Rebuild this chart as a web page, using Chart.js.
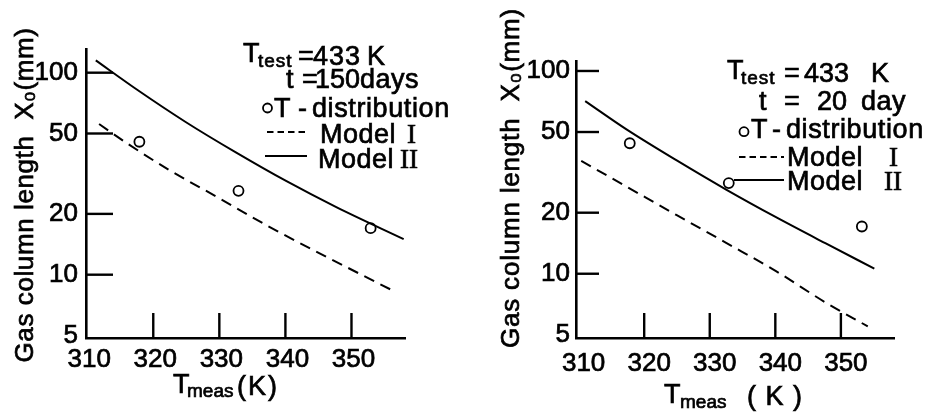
<!DOCTYPE html>
<html><head><meta charset="utf-8">
<script src="https://cdn.jsdelivr.net/npm/chart.js@4.4.1/dist/chart.umd.min.js"></script>
<style>
html,body{margin:0;padding:0;background:#fff;}
#wrap{position:relative;width:928px;height:412px;background:#fff;}
canvas{position:absolute;top:0;}
</style></head><body>
<div id="wrap">
<canvas id="c1" width="464" height="412" style="left:0"></canvas>
<canvas id="c2" width="464" height="412" style="left:464px"></canvas>
</div>
<script>
// ---- tick labels ----
const xTickValues = [310, 320, 330, 340, 350];
const yTickValues = [5, 10, 20, 50, 100];

// ---- left panel: Ttest = 433 K, t = 150 days ----
const leftModel1T = [311.8, 316.4, 322.4, 330.0, 337.5, 345.1, 356.7];
const leftModel1X = [55.7, 43.9, 33.0, 23.9, 17.3, 12.8, 8.2];
const leftModel2T = [311.3, 317.4, 324.9, 332.5, 340.1, 347.7, 357.9];
const leftModel2X = [115, 83, 57, 40.3, 29.1, 21.6, 15.0];
const leftTdistT = [317.9, 332.9, 352.9];
const leftTdistX = [45.5, 26.0, 17.0];

// ---- right panel: Ttest = 433 K, t = 20 day ----
const rightModel1T = [310.4, 317.3, 324.9, 332.5, 340.1, 347.7, 354.1];
const rightModel1X = [36.0, 26.9, 19.5, 14.2, 10.3, 7.2, 5.5];
const rightModel2T = [311.0, 317.3, 324.9, 332.5, 340.1, 347.7, 355.1];
const rightModel2X = [71, 51.5, 36.3, 26.0, 19.0, 14.1, 10.6];
const rightTdistT = [317.8, 332.9, 353.2];
const rightTdistX = [44.0, 28.0, 17.1];

const SANS = "'Liberation Sans', Arial, sans-serif";
const SERIF = "'Liberation Serif', 'Times New Roman', serif";

function pts(xs, ys) { return xs.map((x, i) => ({ x: x, y: ys[i] })); }

function drawText(ctx, s, x, y, font, spacing) {
  ctx.font = font;
  ctx.textAlign = 'left';
  ctx.textBaseline = 'alphabetic';
  try { ctx.letterSpacing = (spacing || 0) + 'px'; } catch (e) {}
  ctx.lineWidth = 0.7;
  ctx.fillText(s, x, y);
  ctx.strokeText(s, x, y);
  try { ctx.letterSpacing = '0px'; } catch (e) {}
}

function decorPlugin(p) {
  return {
    id: 'decor',
    afterDraw(chart) {
      const ctx = chart.ctx, xs = chart.scales.x, ys = chart.scales.y, ca = chart.chartArea;
      ctx.save();
      ctx.strokeStyle = '#000';
      ctx.fillStyle = '#000';
      ctx.lineWidth = 2.4;
      // inward tick marks
      yTickValues.slice(1).forEach(v => {
        const y = ys.getPixelForValue(v);
        ctx.beginPath(); ctx.moveTo(ca.left, y); ctx.lineTo(ca.left + p.yTickLen, y); ctx.stroke();
      });
      xTickValues.slice(1).forEach(v => {
        const x = xs.getPixelForValue(v);
        ctx.beginPath(); ctx.moveTo(x, ca.bottom); ctx.lineTo(x, ca.bottom - p.xTickLen); ctx.stroke();
      });
      // y title (rotated)
      ctx.save();
      ctx.translate(p.yTitle.x, p.yTitle.y);
      ctx.rotate(-Math.PI / 2);
      ctx.font = '26px ' + SANS;
      ctx.textAlign = 'center';
      ctx.textBaseline = 'alphabetic';
      try { ctx.letterSpacing = p.yTitle.sp + 'px'; } catch (e) {}
      ctx.lineWidth = 0.7;
      ctx.fillText('Gas column length  X\u2080(mm)', 0, 0);
      ctx.strokeText('Gas column length  X\u2080(mm)', 0, 0);
      ctx.restore();
      // text pieces (x title, legend)
      p.texts.forEach(t => drawText(ctx, t.s, t.x, t.y, t.f, t.sp));
      // legend samples
      ctx.lineWidth = 2;
      ctx.setLineDash([6.5, 4]);
      ctx.beginPath(); ctx.moveTo(p.dash[0], p.dash[2]); ctx.lineTo(p.dash[1], p.dash[2]); ctx.stroke();
      ctx.setLineDash([]);
      ctx.beginPath(); ctx.moveTo(p.solid[0], p.solid[2]); ctx.lineTo(p.solid[1], p.solid[2]); ctx.stroke();
      ctx.lineWidth = 1.8;
      ctx.beginPath(); ctx.arc(p.circ[0], p.circ[1], 4.5, 0, Math.PI * 2); ctx.stroke();
      ctx.restore();
    }
  };
}

function makeChart(id, d, p) {
  const tickFont = { family: SANS, size: 26 };
  return new Chart(document.getElementById(id), {
    type: 'line',
    data: {
      datasets: [
        { label: 'Model I', data: pts(d.m1T, d.m1X), borderColor: '#000', borderWidth: 2,
          borderDash: [11, 7], pointRadius: 0, fill: false, cubicInterpolationMode: 'monotone' },
        { label: 'Model II', data: pts(d.m2T, d.m2X), borderColor: '#000', borderWidth: 2,
          pointRadius: 0, fill: false, cubicInterpolationMode: 'monotone' },
        { label: 'T-distribution', data: pts(d.tT, d.tX), showLine: false, borderColor: '#000',
          backgroundColor: 'rgba(255,255,255,0)', pointRadius: 5, pointBorderWidth: 1.8,
          pointBorderColor: '#000', pointBackgroundColor: 'rgba(255,255,255,0)' }
      ]
    },
    options: {
      responsive: false,
      animation: false,
      devicePixelRatio: 1,
      layout: { padding: { left: 0, top: p.top, right: 464 - p.right, bottom: 0 } },
      plugins: { legend: { display: false }, tooltip: { enabled: false } },
      scales: {
        x: {
          type: 'linear', position: 'bottom', min: p.xMin, max: p.xMax,
          grid: { display: false, drawTicks: false },
          border: { display: true, color: '#000', width: 2.6 },
          ticks: { font: tickFont, color: '#000', padding: p.xPad, labelOffset: p.xLabOff, maxRotation: 0,
                   textStrokeColor: '#000', textStrokeWidth: 0.7, callback: v => String(v) },
          afterBuildTicks: s => { s.ticks = xTickValues.map(v => ({ value: v })); },
          afterFit: s => { s.height = 412 - p.bottom; }
        },
        y: {
          type: 'logarithmic', position: 'left', min: p.yMin, max: p.yMax,
          grid: { display: false, drawTicks: false },
          border: { display: true, color: '#000', width: 2.6 },
          ticks: { font: tickFont, color: '#000', padding: p.yPad,
                   textStrokeColor: '#000', textStrokeWidth: 0.7, callback: v => String(v) },
          afterBuildTicks: s => { s.ticks = yTickValues.map(v => ({ value: v })); },
          afterFit: s => { s.width = p.left; }
        }
      }
    },
    plugins: [decorPlugin(p)]
  });
}

const F26 = '27px ' + SANS, F19 = '19px ' + SANS, FR = '27px ' + SERIF;

makeChart('c1',
  { m1T: leftModel1T, m1X: leftModel1X, m2T: leftModel2T, m2X: leftModel2X, tT: leftTdistT, tX: leftTdistX },
  { left: 86, right: 405, top: 49, bottom: 338, xMin: 309.82, xMax: 358.1, yMin: 4.86, yMax: 131,
    xPad: 6, xLabOff: 2, yPad: 8, yTickLen: 27, xTickLen: 25,
    yTitle: { x: 33, y: 195, sp: 0.6 },
    texts: [
      { s: 'T', x: 173, y: 393, f: F26 }, { s: 'meas', x: 187, y: 397, f: F19 }, { s: '(K)', x: 237, y: 395, f: F26, sp: 2 },
      { s: 'T', x: 243, y: 62, f: F26 }, { s: 'test', x: 258, y: 67, f: F19, sp: 1 },
      { s: '=', x: 298, y: 65, f: F26 }, { s: '433', x: 313, y: 65, f: F26, sp: 1 }, { s: 'K', x: 367, y: 65, f: F26 },
      { s: 't', x: 286, y: 88, f: F26 }, { s: '=', x: 302, y: 88, f: F26 }, { s: '150', x: 315, y: 88, f: F26 },
      { s: 'days', x: 360, y: 88, f: F26, sp: 0.5 },
      { s: 'T', x: 274, y: 117, f: F26 }, { s: '-', x: 298, y: 117, f: F26 }, { s: 'distribution', x: 312, y: 117, f: F26, sp: 0.6 },
      { s: 'Model', x: 320, y: 143, f: F26, sp: 0.5 }, { s: 'I', x: 407, y: 143, f: FR },
      { s: 'Model', x: 318, y: 168, f: F26, sp: 0.5 }, { s: 'II', x: 400, y: 168, f: FR }
    ],
    dash: [267, 306, 132], solid: [265, 307, 156], circ: [267.5, 108] });

makeChart('c2',
  { m1T: rightModel1T, m1X: rightModel1X, m2T: rightModel2T, m2X: rightModel2X, tT: rightTdistT, tX: rightTdistX },
  { left: 112, right: 430, top: 61, bottom: 338, xMin: 309.6, xMax: 358.1, yMin: 4.82, yMax: 112,
    xPad: 10, xLabOff: 5, yPad: 6, yTickLen: 23, xTickLen: 25,
    yTitle: { x: 55, y: 178, sp: 0.8 },
    texts: [
      { s: 'T', x: 200, y: 403, f: F26 }, { s: 'meas', x: 216, y: 408, f: F19 }, { s: '( K )', x: 283, y: 405, f: F26, sp: 1 },
      { s: 'T', x: 263, y: 79, f: F26 }, { s: 'test', x: 277, y: 84, f: F19, sp: 1 },
      { s: '=', x: 320, y: 82, f: F26 }, { s: '433', x: 340, y: 82, f: F26 }, { s: 'K', x: 407, y: 82, f: F26 },
      { s: 't', x: 295, y: 110, f: F26 }, { s: '=', x: 320, y: 110, f: F26 }, { s: '20', x: 353, y: 110, f: F26 },
      { s: 'day', x: 397, y: 110, f: F26, sp: 0.5 },
      { s: 'T', x: 287, y: 138, f: F26 }, { s: '-', x: 308, y: 138, f: F26 }, { s: 'distribution', x: 322, y: 138, f: F26, sp: 0.6 },
      { s: 'Model', x: 323, y: 166, f: F26, sp: 0.5 }, { s: 'I', x: 425, y: 166, f: FR },
      { s: 'Model', x: 323, y: 190, f: F26, sp: 0.5 }, { s: 'II', x: 420, y: 190, f: FR }
    ],
    dash: [275, 320, 157], solid: [270, 320, 180], circ: [280, 131.7] });
</script>
</body></html>
